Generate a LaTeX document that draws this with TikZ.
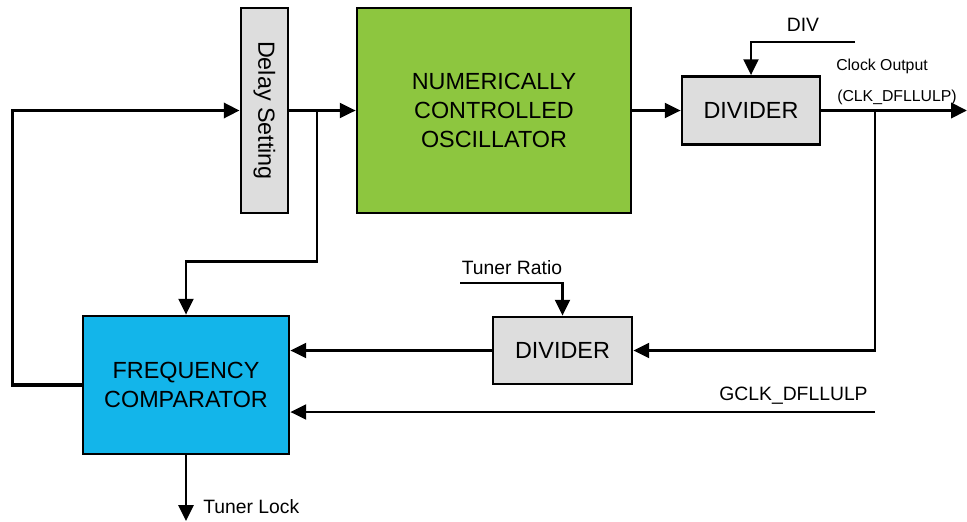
\documentclass[tikz,border=0pt]{standalone}
\usepackage{fontspec}
\setmainfont{Liberation Sans}
\usetikzlibrary{arrows.meta,positioning,calc}
\definecolor{ncoGreen}{HTML}{8DC63F}
\definecolor{cmpBlue}{HTML}{13B5EA}
\definecolor{blockGray}{HTML}{DDDDDD}

\begin{document}
\begin{tikzpicture}[x=0.02cm, y=-0.02cm,
        block/.style={draw=black, line width=1.6pt, align=center, inner sep=0pt, font=\fontsize{13.3}{16.5}\selectfont},
        graybox/.style={block, fill=blockGray},
        wire/.style={line width=1.3pt},
        arrow/.style={wire, -{Triangle[length=9pt,width=8.5pt]}},
        busarrow/.style={arrow, line width=2pt},
        sig/.style={font=\fontsize{11}{13}\selectfont, inner sep=0pt},
        tiny/.style={font=\fontsize{9}{11}\selectfont, inner sep=0pt}
    ]
        \useasboundingbox (0,0) rectangle (967,521);

        \node[graybox, minimum width=0.94cm, minimum height=4.1cm] (delay) at (264.5,110.5) {};
        \node[rotate=-90, inner sep=0pt, font=\fontsize{13.3}{16.5}\selectfont] (delaytext) at (delay.center) {Delay Setting};
        \node[block, fill=ncoGreen, minimum width=5.48cm, minimum height=4.1cm] (nco) at (494,110.5) {NUMERICALLY\\CONTROLLED\\OSCILLATOR};
        \node[graybox, minimum width=2.76cm, minimum height=1.36cm] (divout) at (751,110.5) {DIVIDER};
        \node[graybox, minimum width=2.78cm, minimum height=1.34cm] (divtune) at (562.5,350.5) {DIVIDER};
        \node[block, fill=cmpBlue, minimum width=4.12cm, minimum height=2.76cm] (freqcmp) at (186,385) {FREQUENCY\\COMPARATOR};

        \coordinate (tapdelay) at (317,110.5);
        \coordinate (tapclk) at (875,110.5);
        \coordinate (divin) at (855,42);
        \coordinate (ratioin) at (460,283);
        \coordinate (gclkin) at (875,412);
        \coordinate (clkout) at (967,110.5);
        \coordinate (lockout) at (186,521);

        \node[sig] (divlbl) at (803,25) {DIV};
        \node[tiny] (clklbl) at (882,66) {Clock Output};
        \node[tiny] (clkname) at (897,97) {(CLK\_DFLLULP)};
        \node[sig] (ratiolbl) at (512,268) {Tuner Ratio};
        \node[sig, anchor=south east] (gclklbl) at (868,405) {GCLK\_DFLLULP};
        \node[sig, anchor=west] (locklbl) at (203,507) {Tuner Lock};

        \draw[busarrow] (freqcmp.west) -- ++(-69,0) |- (delay.west);
        \draw[arrow] (delay.east) -- (nco.west);
        \draw[arrow] (tapdelay) -- ++(0,151) -| (freqcmp.north);
        \draw[arrow] (nco.east) -- (divout.west);
        \draw[arrow] (divin) -| (divout.north);
        \draw[busarrow] (divout.east) -- (clkout);
        \draw[arrow] (tapclk) |- (divtune.east);
        \draw[arrow] (ratioin) -| (divtune.north);
        \draw[arrow] (divtune.west) -- (freqcmp.east |- divtune.west);
        \draw[arrow] (gclkin) -- (freqcmp.east |- gclkin);
        \draw[arrow] (freqcmp.south) -- (lockout);
    \end{tikzpicture}
\end{document}
